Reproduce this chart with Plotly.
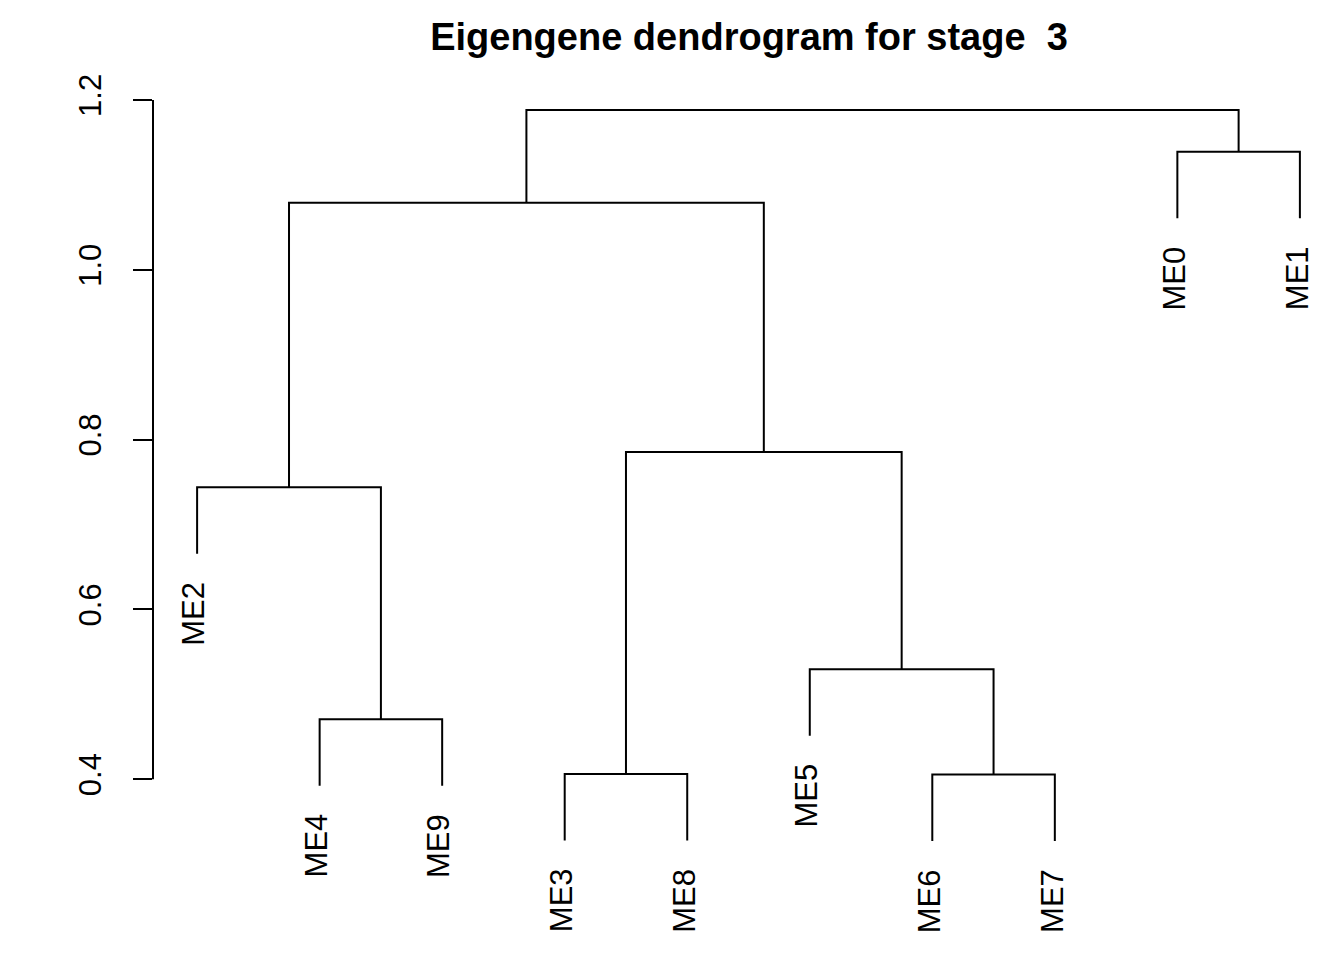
import plotly.graph_objects as go

# ---- data ----
leaf_order = ["ME2", "ME4", "ME9", "ME3", "ME8", "ME5", "ME6", "ME7", "ME0", "ME1"]
# merges: (left child, right child, height); children are leaf names or merge indices (int, 0-based)
merge_left = ["ME6", "ME3", "ME4", "ME5", "ME2", 1, 4, "ME0", 6]
merge_right = ["ME7", "ME8", "ME9", 0, 2, 3, 5, "ME1", 7]
merge_height = [0.4055, 0.4062, 0.4706, 0.5295, 0.7439, 0.7854, 1.079, 1.139, 1.1882]
tick_vals = [0.4, 0.6, 0.8, 1.0, 1.2]
tick_text = ["0.4", "0.6", "0.8", "1.0", "1.2"]
title_text = "Eigengene dendrogram for stage \u00a03"
hang_frac = 0.1

# ---- layout of dendrogram through leaf positions ----
leaf_x = {name: i + 1 for i, name in enumerate(leaf_order)}
hang = hang_frac * (max(merge_height) - min(merge_height))

node_x = []
xs, ys = [], []
leaf_bottom = {}
for i, (a, b, h) in enumerate(zip(merge_left, merge_right, merge_height)):
    pts = []
    for c in (a, b):
        if isinstance(c, str):
            cx = leaf_x[c]
            cy = h - hang
            leaf_bottom[c] = cy
        else:
            cx = node_x[c]
            cy = merge_height[c]
        pts.append((cx, cy))
    (xa, ya), (xb, yb) = pts
    xs += [xa, xa, xb, xb, None]
    ys += [ya, h, h, yb, None]
    node_x.append((xa + xb) / 2)

fig = go.Figure()
fig.add_trace(go.Scatter(x=xs, y=ys, mode="lines",
                         line=dict(color="black", width=2),
                         hoverinfo="skip", showlegend=False))

font_family = "Liberation Sans, Arial, Helvetica, sans-serif"
for name in leaf_order:
    fig.add_annotation(x=leaf_x[name], y=leaf_bottom[name], xref="x", yref="y",
                       text=name, showarrow=False, textangle=-90,
                       xanchor="center", yanchor="top", yshift=-26, xshift=-3,
                       font=dict(family=font_family, size=31, color="black"))

# axis line from 0.4 to 1.2 (R style)
fig.add_shape(type="line", xref="paper", yref="y", x0=0, x1=0,
              y0=min(tick_vals), y1=max(tick_vals),
              line=dict(color="black", width=2))

fig.update_layout(
    width=1344, height=960,
    margin=dict(l=153, r=0, t=60, b=30),
    plot_bgcolor="white", paper_bgcolor="white",
    title=dict(text="<b>" + title_text + "</b>", x=749 / 1344, xanchor="center",
               y=1 - 37 / 960, yanchor="middle", yref="container",
               font=dict(family=font_family, size=38, color="black")),
    xaxis=dict(range=[0.64, 10.36], visible=False, fixedrange=True),
    yaxis=dict(range=[0.2225, 1.2471], showgrid=False, zeroline=False,
               showline=False, tickmode="array", tickvals=tick_vals,
               ticktext=tick_text, ticks="outside", ticklen=19, tickwidth=2,
               tickcolor="black", tickangle=-90, ticklabelstandoff=20,
               tickfont=dict(family=font_family, size=31, color="black")),
)

fig.write_html("out.html")
